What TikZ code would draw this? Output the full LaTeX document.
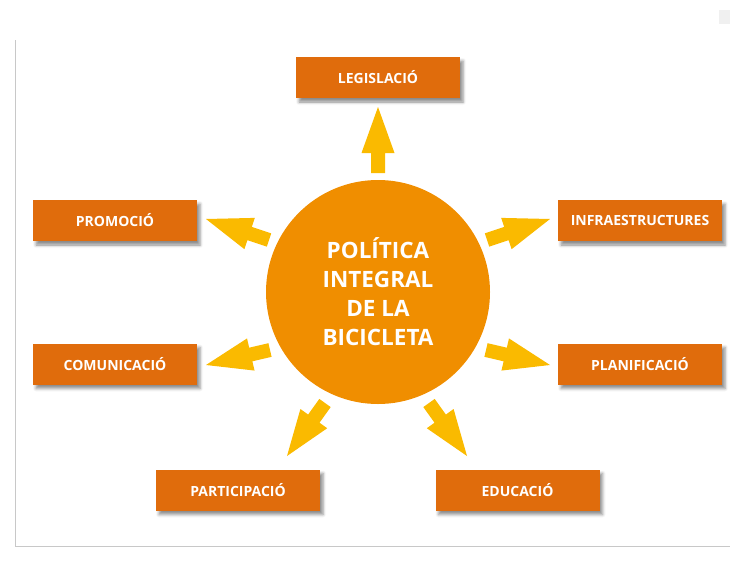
\documentclass[tikz,border=0pt]{standalone}
\usepackage{fontspec}
\setmainfont{Open Sans}
\usetikzlibrary{calc,shadows.blur}
\definecolor{boxc}{RGB}{224,108,12}
\definecolor{circc}{RGB}{240,142,0}
\definecolor{arrc}{RGB}{250,186,0}
\definecolor{framec}{RGB}{200,200,200}
\newcommand\fatarrow[2]{%
  \fill[arrc] ($(#1)!7pt!90:(#2)$)
    -- ($($(#2)!46pt!(#1)$)!7pt!90:(#2)$)
    -- ($($(#2)!46pt!(#1)$)!16.5pt!90:(#2)$)
    -- (#2)
    -- ($($(#2)!46pt!(#1)$)!16.5pt!-90:(#2)$)
    -- ($($(#2)!46pt!(#1)$)!7pt!-90:(#2)$)
    -- ($(#1)!7pt!-90:(#2)$) -- cycle;}
\tikzset{
  topic/.style={fill=boxc, text=white, font=\bfseries\fontsize{14}{16}\selectfont,
    minimum width=164pt, minimum height=41pt, inner sep=0pt,
    blur shadow={shadow xshift=3pt, shadow yshift=-4pt, shadow blur radius=3pt, shadow opacity=45}},
  hub/.style={circle, fill=circc, text=white, minimum size=224pt, inner sep=0pt,
    align=center, font=\bfseries\fontsize{22.5}{29}\selectfont},
  frameline/.style={draw=framec, line width=1pt}
}
\begin{document}
\begin{tikzpicture}[x=1pt,y=-1pt]
\useasboundingbox (0,0) rectangle (730,562);
% frame
\coordinate (f1) at (15,40);
\coordinate (f2) at (15,546);
\coordinate (f3) at (730,546);
\draw[frameline] (f1) -- (f2) -- (f3);
\fill[gray!12] (719,10) rectangle (730,24);
% hub
\node[hub] (hub) at (378,292) {POLÍTICA\\INTEGRAL\\DE LA\\BICICLETA};
% boxes
\node[topic] (leg) at (378,77.5) {LEGISLACIÓ};
\node[topic] (pro) at (115,220.5) {PROMOCIÓ};
\node[topic] (inf) at (640,220.5) {INFRAESTRUCTURES};
\node[topic] (com) at (115,364) {COMUNICACIÓ};
\node[topic] (pla) at (640,364) {PLANIFICACIÓ};
\node[topic] (par) at (238,490) {PARTICIPACIÓ};
\node[topic] (edu) at (517.5,490) {EDUCACIÓ};
% arrow ends
\coordinate (a1s) at (378,173); \coordinate (a1e) at (378,107);
\coordinate (a2s) at (269,240); \coordinate (a2e) at (206,219);
\coordinate (a3s) at (487,240); \coordinate (a3e) at (550,219);
\coordinate (a4s) at (270,350); \coordinate (a4e) at (206,365);
\coordinate (a5s) at (486,350); \coordinate (a5e) at (550,365);
\coordinate (a6s) at (325,403); \coordinate (a6e) at (287,456);
\coordinate (a7s) at (429,403); \coordinate (a7e) at (467,456);
\fatarrow{a1s}{a1e}
\fatarrow{a2s}{a2e}
\fatarrow{a3s}{a3e}
\fatarrow{a4s}{a4e}
\fatarrow{a5s}{a5e}
\fatarrow{a6s}{a6e}
\fatarrow{a7s}{a7e}
\end{tikzpicture}
\end{document}
